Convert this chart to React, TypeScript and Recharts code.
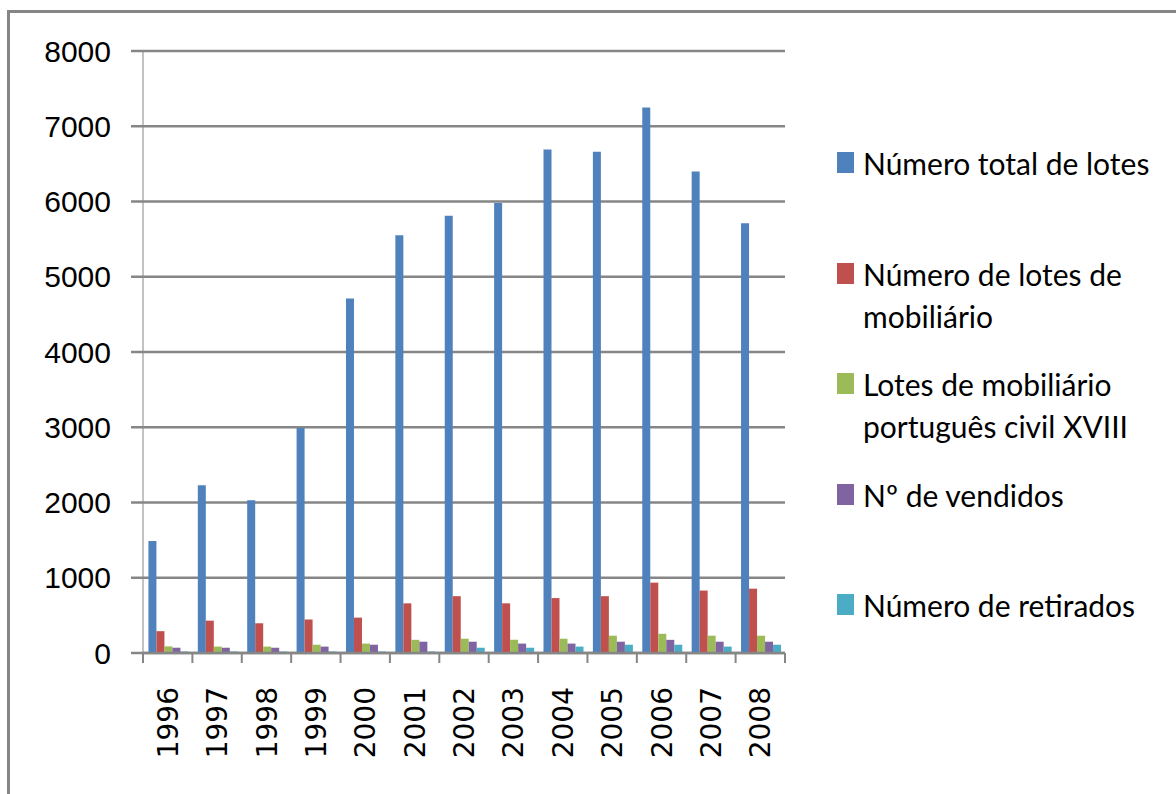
import { BarChart, Bar, XAxis, YAxis, CartesianGrid, Legend } from "recharts";

const years = ["1996", "1997", "1998", "1999", "2000", "2001", "2002", "2003", "2004", "2005", "2006", "2007", "2008"];

const totalLotes = [1490, 2230, 2030, 2990, 4710, 5550, 5810, 5980, 6690, 6660, 7250, 6400, 5710];
const lotesMobiliario = [290, 430, 395, 445, 470, 660, 755, 660, 730, 755, 935, 830, 855];
const lotesCivilXVIII = [88, 85, 85, 110, 125, 175, 190, 175, 190, 230, 255, 230, 230];
const vendidos = [70, 70, 70, 85, 110, 150, 150, 125, 125, 150, 175, 150, 150];
const retirados = [20, 20, 20, 20, 20, 20, 70, 70, 85, 110, 110, 85, 110];

const yTicks = [0, 1000, 2000, 3000, 4000, 5000, 6000, 7000, 8000];

const GRAY = "#868686";

const SERIES = [
  { key: "total", name: "Número total de lotes", color: "#4F81BD", values: totalLotes },
  { key: "mobiliario", name: "Número de lotes de mobiliário", color: "#C0504D", values: lotesMobiliario },
  { key: "civil", name: "Lotes de mobiliário português civil XVIII", color: "#9BBB59", values: lotesCivilXVIII },
  { key: "vendidos", name: "Nº de vendidos", color: "#8064A2", values: vendidos },
  { key: "retirados", name: "Número de retirados", color: "#4BACC6", values: retirados },
];

const data = years.map((year, i) => {
  const row: Record<string, string | number> = { year };
  SERIES.forEach((s) => {
    row[s.key] = s.values[i];
  });
  return row;
});

// year labels rotated, plus tick marks on the category boundaries
function YearTick(props: any) {
  const { x, y, payload, index, width } = props;
  const half = typeof width === "number" ? width / years.length / 2 : 0;
  return (
    <g>
      <line x1={x - half} x2={x - half} y1={y} y2={y + 10} stroke={GRAY} strokeWidth={2} />
      {index === years.length - 1 && (
        <line x1={x + half} x2={x + half} y1={y} y2={y + 10} stroke={GRAY} strokeWidth={2} />
      )}
      <text
        transform={`translate(${x},${y + 34}) rotate(-90)`}
        textAnchor="end"
        dy="0.36em"
        fontSize={28}
        fontFamily="DejaVu Sans"
        fill="#000"
      >
        {payload.value}
      </text>
    </g>
  );
}

// legend keeps the series order (recharts sorts its payload by name)
function LegendBox() {
  return (
    <div style={{ fontFamily: "Lato", fontSize: 30, color: "#000", lineHeight: "42px" }}>
      {SERIES.map((s) => (
        <div key={s.key} style={{ display: "flex", alignItems: "flex-start", height: 110.5 }}>
          <span
            style={{
              width: 17,
              height: 21,
              background: s.color,
              marginTop: 10,
              marginRight: 9,
              flexShrink: 0,
            }}
          />
          <span style={{ width: 305 }}>{s.name}</span>
        </div>
      ))}
    </div>
  );
}

export default function App() {
  return (
    <div
      style={{
        position: "absolute",
        left: 0,
        top: 0,
        width: 1176,
        height: 794,
        overflow: "hidden",
        background: "#fff",
      }}
    >
      <div
        style={{
          position: "absolute",
          left: 7,
          top: 10,
          width: 1300,
          height: 900,
          borderTop: `3px solid ${GRAY}`,
          borderLeft: `3px solid ${GRAY}`,
        }}
      />
      <div style={{ position: "absolute", left: 0, top: 0 }}>
        <BarChart
          width={1176}
          height={794}
          data={data}
          margin={{ top: 51, right: 391, bottom: 0, left: 0 }}
          barCategoryGap="11%"
          barGap={0}
        >
          <CartesianGrid horizontal vertical={false} stroke={GRAY} strokeWidth={2.5} />
          <XAxis
            dataKey="year"
            height={141}
            axisLine={{ stroke: GRAY, strokeWidth: 2.5 }}
            tickLine={false}
            tickSize={0}
            tickMargin={0}
            interval={0}
            tick={<YearTick />}
          />
          <YAxis
            width={143}
            domain={[0, 8000]}
            ticks={yTicks}
            interval={0}
            axisLine={{ stroke: GRAY, strokeWidth: 1 }}
            tickLine={{ stroke: GRAY, strokeWidth: 2.5 }}
            tickSize={12}
            tickMargin={20}
            tick={{ fontSize: 30, fill: "#000", fontFamily: "Liberation Sans" }}
          />
          <Legend
            layout="vertical"
            align="center"
            verticalAlign="middle"
            content={<LegendBox />}
            wrapperStyle={{ left: 837, top: 142, width: 339 }}
          />
          {SERIES.map((s) => (
            <Bar key={s.key} dataKey={s.key} name={s.name} fill={s.color} isAnimationActive={false} />
          ))}
        </BarChart>
      </div>
    </div>
  );
}
